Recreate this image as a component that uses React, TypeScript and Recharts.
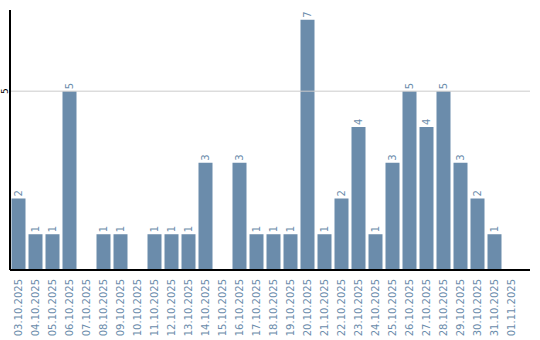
import React from 'react';
import { BarChart, Bar, XAxis, YAxis, ReferenceLine, LabelList } from 'recharts';

const days = [
  '03.10.2025', '04.10.2025', '05.10.2025', '06.10.2025', '07.10.2025',
  '08.10.2025', '09.10.2025', '10.10.2025', '11.10.2025', '12.10.2025',
  '13.10.2025', '14.10.2025', '15.10.2025', '16.10.2025', '17.10.2025',
  '18.10.2025', '19.10.2025', '20.10.2025', '21.10.2025', '22.10.2025',
  '23.10.2025', '24.10.2025', '25.10.2025', '26.10.2025', '27.10.2025',
  '28.10.2025', '29.10.2025', '30.10.2025', '31.10.2025', '01.11.2025',
];
const counts = [2, 1, 1, 5, 0, 1, 1, 0, 1, 1, 1, 3, 0, 3, 1, 1, 1, 7, 1, 2, 4, 1, 3, 5, 4, 5, 3, 2, 1, 0];
const yTicks = [5];

const data = days.map((d, i) => ({ day: d, count: counts[i] }));

const BLUE = '#6b8cab';
const FONT = 'DejaVu Sans, sans-serif';

const XTick = (props: any) => {
  const { x, y, payload } = props;
  return (
    <text
      transform={`translate(${x},${y + 1}) rotate(-90)`}
      textAnchor="end"
      dominantBaseline="central"
      fontSize={10}
      fontFamily={FONT}
      fill={BLUE}
    >
      {payload.value}
    </text>
  );
};

const YTick = (props: any) => {
  const { y, payload } = props;
  return (
    <text
      transform={`translate(4.5,${y}) rotate(-90)`}
      textAnchor="middle"
      dominantBaseline="central"
      fontSize={9}
      fontFamily={FONT}
      fill="#000"
    >
      {payload.value}
    </text>
  );
};

const BarValue = (props: any) => {
  const { x, y, width, value } = props;
  if (!value) return null;
  return (
    <text
      transform={`translate(${x + width / 2},${y - 2}) rotate(-90)`}
      textAnchor="start"
      dominantBaseline="central"
      fontSize={10}
      fontFamily={FONT}
      fill={BLUE}
    >
      {value}
    </text>
  );
};

export default function App() {
  return (
    <div style={{ position: 'absolute', left: 0, top: 0 }}>
      <BarChart
        width={540}
        height={340}
        data={data}
        margin={{ top: 10, right: 10, left: 0, bottom: 0 }}
        barCategoryGap={1.5}
      >
        <ReferenceLine y={5} stroke="#cccccc" />
        <XAxis
          dataKey="day"
          interval={0}
          height={70}
          padding={{ left: 0, right: 10 }}
          tickLine={false}
          axisLine={{ stroke: '#000', strokeWidth: 2 }}
          tick={<XTick />}
        />
        <YAxis
          width={10}
          domain={[0, 7.27]}
          ticks={yTicks}
          tickLine={false}
          axisLine={{ stroke: '#000', strokeWidth: 2 }}
          tick={<YTick />}
        />
        <Bar dataKey="count" fill={BLUE} isAnimationActive={false}>
          <LabelList dataKey="count" content={<BarValue />} />
        </Bar>
      </BarChart>
    </div>
  );
}
